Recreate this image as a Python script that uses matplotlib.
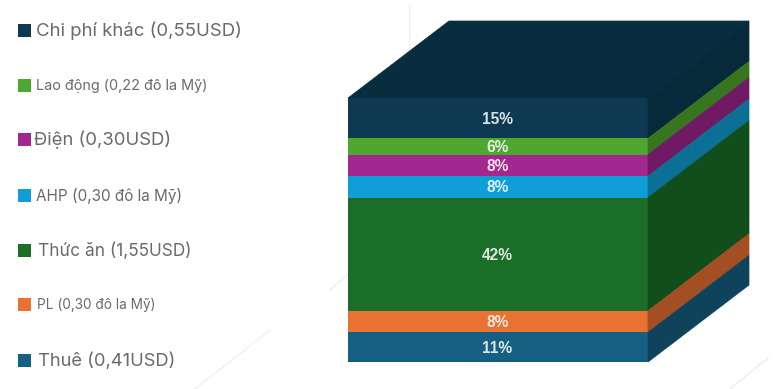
#
# Chi phí sản xuất: khối xếp chồng 3D giả với chú giải bên trái
#

import matplotlib
matplotlib.use("Agg")
import matplotlib.pyplot as plt
from matplotlib.patches import Polygon, Rectangle

plt.rcParams['font.family'] = ['Inter', 'DejaVu Sans']

# từ trên xuống dưới
labels = ["Chi phí khác (0,55USD)", "Lao động (0,22 đô la Mỹ)", "Điện (0,30USD)",
          "AHP (0,30 đô la Mỹ)", "Thức ăn (1,55USD)", "PL (0,30 đô la Mỹ)", "Thuê (0,41USD)"]
percents = [15, 6, 8, 8, 42, 8, 11]
front_colors = ["#0d3a52", "#4ea72e", "#a2288f", "#0f9ed5", "#1b6e28", "#e97132", "#156082"]
side_colors = ["#062a3a", "#37751f", "#6f1a63", "#0b6f96", "#124d1c", "#a34f23", "#0e435b"]
top_color = "#072d3e"

legend_y = [31, 86, 140, 196, 251, 305, 361]
legend_x = [36, 36, 34, 36, 38, 37, 38]
legend_size = [13.4, 10.4, 13.3, 11.0, 12.4, 9.8, 13.2]

# kubens geometri i pixlar
LEFT, RIGHT = 348, 648
TOP, BOTTOM = 98, 362
DX, DY = 101, -77

fig = plt.figure(figsize=(7.76, 3.89), dpi=100)
ax = fig.add_axes([0, 0, 1, 1])
ax.set_xlim(0, 776)
ax.set_ylim(389, 0)
ax.axis("off")

# svaga linjer i bakgrunden
ax.plot([409, 409], [5, 98], color="#f0f0f0", lw=1, zorder=0)
ax.plot([195, 270], [389, 330], color="#f3f3f3", lw=1.2, zorder=0)
ax.plot([330, 350], [290, 272], color="#f0f0f0", lw=1.2, zorder=0)
ax.plot([730, 768], [389, 358], color="#f0f0f0", lw=1.2, zorder=0)

scale = (BOTTOM - TOP) / sum(percents)

# toppen
ax.add_patch(Polygon([(LEFT, TOP), (LEFT + DX, TOP + DY), (RIGHT + DX, TOP + DY), (RIGHT, TOP)],
                     closed=True, fc=top_color, ec=top_color, lw=0.5, zorder=2))

y = TOP
for pct, front, side in zip(percents, front_colors, side_colors):
    h = pct * scale
    ax.add_patch(Rectangle((LEFT, y), RIGHT - LEFT, h, fc=front, ec="none", zorder=3))
    ax.add_patch(Polygon([(RIGHT, y), (RIGHT + DX, y + DY), (RIGHT + DX, y + h + DY), (RIGHT, y + h)],
                         closed=True, fc=side, ec=side, lw=0.5, zorder=3))
    ax.text((LEFT + RIGHT) / 2 - 0.5, y + h / 2 + 1, f"{pct}%", color="#ffffff", alpha=0.85, fontsize=11.2,
            fontweight="bold", ha="center", va="center", family=["Liberation Sans", "DejaVu Sans"], zorder=4)
    y += h

# chú giải
for label, color, ly, lx, size in zip(labels, front_colors, legend_y, legend_x, legend_size):
    ax.add_patch(Rectangle((18, ly - 7.5), 13, 13, fc=color, ec="none", zorder=3))
    ax.text(lx, ly, label, color="#6a6a6a", fontsize=size, ha="left", va="center", zorder=3)

fig.savefig("out.png", dpi=100)
